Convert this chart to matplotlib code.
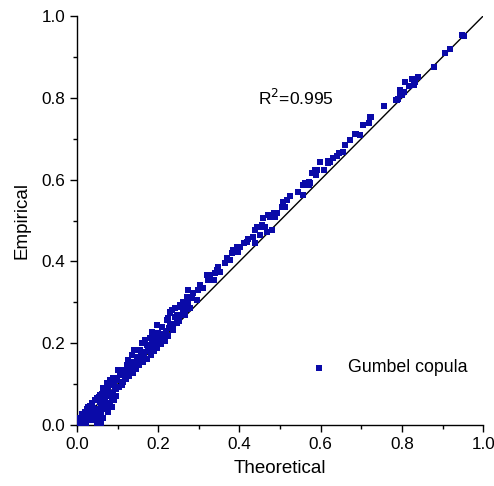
import matplotlib
matplotlib.use('Agg')
import matplotlib.pyplot as plt
from matplotlib.ticker import MultipleLocator, FormatStrFormatter

plt.rcParams['font.family'] = ['Liberation Sans', 'DejaVu Sans']

# points (theoretical vs empirical)
theoretical = [
    0.948, 0.953, 0.919, 0.906, 0.878, 0.840, 0.826, 0.808, 0.833, 0.818,
    0.830, 0.796, 0.800, 0.786, 0.791, 0.755, 0.723, 0.787, 0.796, 0.804,
    0.722, 0.705, 0.718, 0.697, 0.685, 0.672, 0.660, 0.656, 0.640, 0.631,
    0.619, 0.599, 0.607, 0.586, 0.578, 0.589, 0.574, 0.557, 0.545, 0.525,
    0.508, 0.504, 0.512, 0.484, 0.488, 0.475, 0.480, 0.463, 0.447, 0.438,
    0.451, 0.434, 0.422, 0.418, 0.410, 0.401, 0.438, 0.687, 0.644, 0.623,
    0.617, 0.590, 0.582, 0.572, 0.562, 0.570, 0.557, 0.517, 0.492, 0.459,
    0.471, 0.455, 0.443, 0.467, 0.393, 0.385, 0.381, 0.397, 0.369, 0.377,
    0.365, 0.348, 0.344, 0.352, 0.340, 0.328, 0.319, 0.323, 0.336, 0.303,
    0.311, 0.299, 0.286, 0.274, 0.270, 0.283, 0.295, 0.262, 0.258, 0.254,
    0.266, 0.278, 0.241, 0.233, 0.229, 0.246, 0.225,
    0.254, 0.274, 0.229, 0.241, 0.258, 0.221, 0.229, 0.245, 0.208, 0.196,
    0.184, 0.200, 0.192, 0.213, 0.180, 0.168, 0.159, 0.172, 0.188, 0.155,
    0.139, 0.135, 0.147, 0.159, 0.126, 0.143, 0.122, 0.135, 0.114, 0.102,
    0.106, 0.126, 0.089, 0.098, 0.081, 0.073, 0.085, 0.065, 0.077, 0.094,
    0.061, 0.073, 0.053, 0.044, 0.057, 0.065, 0.036, 0.028, 0.040, 0.020,
    0.032, 0.016, 0.007, 0.024, 0.002, 0.012, 0.001,
    0.050, 0.052, 0.055, 0.058, 0.048, 0.062, 0.060, 0.054, 0.066, 0.070,
    0.085, 0.080, 0.090, 0.095, 0.046, 0.042, 0.038, 0.030, 0.034, 0.026,
    0.110, 0.118, 0.150, 0.165, 0.176, 0.205, 0.217, 0.236, 0.250, 0.265,
    0.010, 0.018, 0.022, 0.005, 0.014,
    # extra density in the lower band
    0.003, 0.008, 0.013, 0.019, 0.025, 0.031, 0.037, 0.043, 0.049, 0.056,
    0.063, 0.069, 0.076, 0.083, 0.091, 0.099, 0.108, 0.116, 0.124, 0.132,
    0.141, 0.150, 0.158, 0.166, 0.175, 0.184, 0.192, 0.201, 0.210, 0.218,
    0.227, 0.236, 0.245, 0.262, 0.270, 0.006, 0.015, 0.027, 0.039, 0.045,
    0.058, 0.068, 0.079, 0.088, 0.097, 0.104, 0.113, 0.121, 0.129, 0.137,
    0.145, 0.153, 0.162, 0.171, 0.181, 0.190, 0.198, 0.207, 0.216, 0.224,
    0.051, 0.056, 0.059, 0.063, 0.072, 0.075, 0.087, 0.035, 0.021, 0.011,
]
empirical = [
    0.953, 0.951, 0.919, 0.909, 0.876, 0.852, 0.846, 0.838, 0.839, 0.829,
    0.831, 0.819, 0.807, 0.795, 0.797, 0.780, 0.752, 0.794, 0.806, 0.815,
    0.754, 0.733, 0.738, 0.709, 0.711, 0.697, 0.685, 0.668, 0.658, 0.652,
    0.646, 0.644, 0.623, 0.623, 0.615, 0.611, 0.591, 0.587, 0.570, 0.560,
    0.546, 0.534, 0.534, 0.518, 0.509, 0.509, 0.477, 0.485, 0.485, 0.477,
    0.465, 0.460, 0.456, 0.448, 0.444, 0.436, 0.444, 0.711, 0.664, 0.644,
    0.640, 0.623, 0.615, 0.595, 0.591, 0.587, 0.562, 0.550, 0.518, 0.505,
    0.513, 0.489, 0.485, 0.473, 0.436, 0.428, 0.420, 0.424, 0.408, 0.403,
    0.395, 0.387, 0.379, 0.375, 0.371, 0.367, 0.367, 0.355, 0.355, 0.342,
    0.334, 0.330, 0.322, 0.330, 0.314, 0.310, 0.306, 0.301, 0.293, 0.289,
    0.285, 0.285, 0.285, 0.281, 0.273, 0.269, 0.261,
    0.293, 0.298, 0.277, 0.265, 0.269, 0.257, 0.244, 0.249, 0.240, 0.244,
    0.228, 0.224, 0.216, 0.220, 0.212, 0.208, 0.200, 0.196, 0.196, 0.183,
    0.183, 0.171, 0.167, 0.167, 0.159, 0.155, 0.147, 0.143, 0.135, 0.135,
    0.122, 0.130, 0.114, 0.110, 0.110, 0.102, 0.098, 0.090, 0.086, 0.090,
    0.077, 0.073, 0.069, 0.061, 0.057, 0.061, 0.053, 0.045, 0.041, 0.033,
    0.029, 0.020, 0.016, 0.016, 0.008, 0.008, 0.002,
    0.005, 0.015, 0.025, 0.035, 0.010, 0.040, 0.030, 0.001, 0.045, 0.050,
    0.045, 0.055, 0.060, 0.070, 0.030, 0.022, 0.035, 0.020, 0.015, 0.028,
    0.098, 0.120, 0.150, 0.175, 0.180, 0.210, 0.205, 0.232, 0.255, 0.270,
    0.004, 0.010, 0.012, 0.001, 0.018,
    0.010, 0.018, 0.026, 0.032, 0.040, 0.047, 0.052, 0.060, 0.066, 0.074,
    0.080, 0.086, 0.094, 0.100, 0.106, 0.115, 0.122, 0.130, 0.139, 0.146,
    0.154, 0.163, 0.170, 0.178, 0.188, 0.197, 0.204, 0.214, 0.222, 0.231,
    0.238, 0.248, 0.258, 0.276, 0.283, 0.003, 0.009, 0.018, 0.030, 0.038,
    0.048, 0.058, 0.070, 0.079, 0.088, 0.094, 0.104, 0.112, 0.120, 0.128,
    0.137, 0.146, 0.153, 0.162, 0.172, 0.180, 0.188, 0.199, 0.208, 0.217,
    0.020, 0.010, 0.004, 0.018, 0.040, 0.032, 0.068, 0.012, 0.006, 0.002,
]

fig = plt.figure(figsize=(4.94, 4.86), dpi=100, facecolor='white')
ax = fig.add_axes([0.156, 0.1255, 0.822, 0.8415])

ax.plot([0, 1], [0, 1], color='black', linewidth=1.0, zorder=2)
ax.scatter(theoretical, empirical, marker='s', s=14, color='#0a0aa8',
           linewidths=0, label='Gumbel copula', zorder=3)

ax.set_xlim(0, 1)
ax.set_ylim(0, 1)
for side in ['top', 'right']:
    ax.spines[side].set_visible(False)
for side in ['left', 'bottom']:
    ax.spines[side].set_linewidth(1.0)

ax.xaxis.set_major_locator(MultipleLocator(0.2))
ax.yaxis.set_major_locator(MultipleLocator(0.2))
ax.xaxis.set_minor_locator(MultipleLocator(0.1))
ax.yaxis.set_minor_locator(MultipleLocator(0.1))
ax.xaxis.set_major_formatter(FormatStrFormatter('%.1f'))
ax.yaxis.set_major_formatter(FormatStrFormatter('%.1f'))
ax.tick_params(which='major', direction='out', length=5, width=1, labelsize=12.3)
ax.tick_params(which='minor', direction='out', length=3, width=1)

ax.set_xlabel('Theoretical', fontsize=13.5, labelpad=6)
ax.set_ylabel('Empirical', fontsize=13.5, labelpad=8)

ax.text(0.445, 0.80, r'R$^2$=0.995', fontsize=12.5, va='center', ha='left')

ax.legend(loc='lower right', bbox_to_anchor=(1.0, 0.08), frameon=False,
          fontsize=12.8, handletextpad=0.6, markerscale=1.0)

fig.savefig('out.png', dpi=100, facecolor='white')
